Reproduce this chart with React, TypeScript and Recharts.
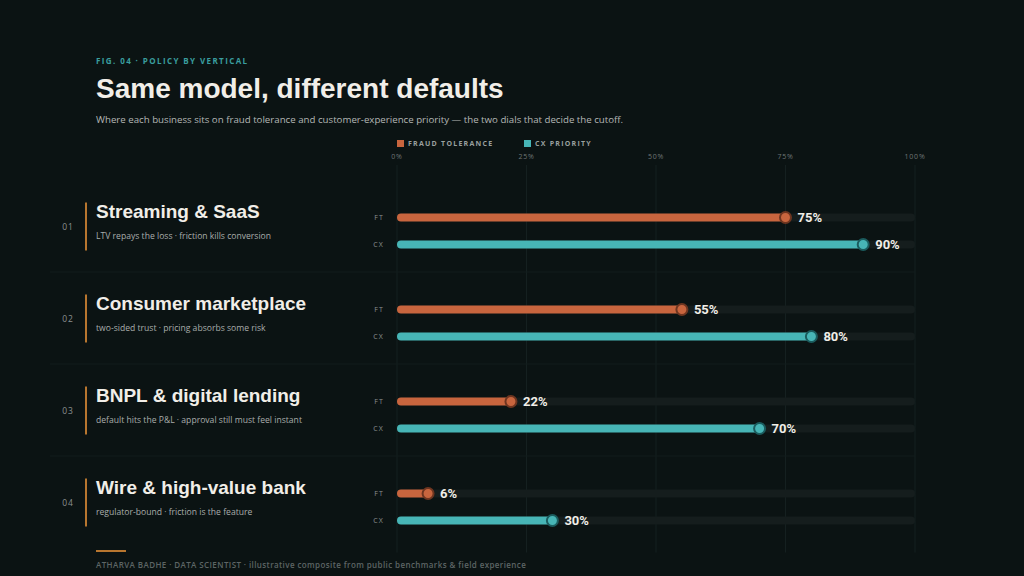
import { BarChart, Bar, XAxis, YAxis, CartesianGrid, LabelList } from 'recharts';

const verticals = ['Streaming & SaaS', 'Consumer marketplace', 'BNPL & digital lending', 'Wire & high-value bank'];
const notes = [
  'LTV repays the loss · friction kills conversion',
  'two-sided trust · pricing absorbs some risk',
  'default hits the P&L · approval still must feel instant',
  'regulator-bound · friction is the feature',
];
const fraudTolerance = [75, 55, 22, 6];
const cxPriority = [90, 80, 70, 30];
const axisTicks = [0, 25, 50, 75, 100];

const BG = '#0b1313';
const ORANGE = '#c8653e';
const TEAL = '#47b5b6';
const GRID = '#152020';
const MUTED = '#8b9191';

const data = verticals.map((name, i) => ({
  name,
  note: notes[i],
  ft: fraudTolerance[i],
  cx: cxPriority[i],
}));

const sans = '"Open Sans", "Noto Sans", sans-serif';
const heavy = '"Liberation Sans", Arial, sans-serif';

function GroupTick(props: any) {
  const { y, payload, index } = props;
  const i = payload.index ?? index;
  const row = data[i];
  return (
    <g>
      {i < data.length - 1 && <line x1={50} x2={915} y1={y + 41.5} y2={y + 41.5} stroke="#131c1c" strokeWidth={1} />}
      <text x={68} y={y - 1} textAnchor="middle" fill={MUTED} fontSize={8.5} fontFamily={sans} letterSpacing={1}>
        {String(i + 1).padStart(2, '0')}
      </text>
      <rect x={85} y={y - 28} width={2} height={48} fill="#b8762f" />
      <text x={96} y={y - 12.5} fill="#f1eee8" fontSize={19} fontWeight={700} fontFamily={heavy}>
        {row.name}
      </text>
      <text x={96} y={y + 8} fill="#a9adab" fontSize={8.6} fontFamily={sans}>
        {row.note}
      </text>
      <text x={384} y={y - 11} textAnchor="end" fill={MUTED} fontSize={7} fontFamily={sans} letterSpacing={1.2}>FT</text>
      <text x={384} y={y + 16} textAnchor="end" fill={MUTED} fontSize={7} fontFamily={sans} letterSpacing={1.2}>CX</text>
    </g>
  );
}

function PctTick(props: any) {
  const { x, payload } = props;
  return (
    <text x={x} y={159} textAnchor="middle" fill="#6f7676" fontSize={7} fontFamily={sans} letterSpacing={0.8}>
      {payload.value}%
    </text>
  );
}

function endMarker(color: string, ring: string) {
  return (props: any) => {
    const { x, y, width, height, value } = props;
    const cx = x + width;
    const cy = y + height / 2;
    return (
      <g>
        <circle cx={cx} cy={cy} r={5.5} fill={color} stroke={ring} strokeWidth={2} />
        <text x={cx + 12} y={cy + 4.5} fill="#f1eee8" fontSize={13} fontWeight={700} fontFamily="Roboto, sans-serif">
          {value}%
        </text>
      </g>
    );
  };
}

export default function App() {
  return (
    <div style={{ position: 'absolute', left: 0, top: 0, width: 1024, height: 576, background: BG, overflow: 'hidden' }}>
      <div style={{ position: 'absolute', left: 96, top: 57, fontFamily: sans, fontSize: 8, fontWeight: 700, letterSpacing: 1.4, color: '#3a9e9f', lineHeight: 1 }}>
        FIG. 04 · POLICY BY VERTICAL
      </div>
      <div style={{ position: 'absolute', left: 96, top: 75, fontFamily: heavy, fontSize: 28, fontWeight: 700, color: '#f1eee8', lineHeight: 1 }}>
        Same model, different defaults
      </div>
      <div style={{ position: 'absolute', left: 96, top: 115, fontFamily: sans, fontSize: 9.7, color: '#b4b7b5', lineHeight: 1, whiteSpace: 'nowrap' }}>
        Where each business sits on fraud tolerance and customer-experience priority — the two dials that decide the cutoff.
      </div>
      <div style={{ position: 'absolute', left: 397, top: 140, display: 'flex', gap: 0, fontFamily: sans, fontSize: 7, fontWeight: 700, letterSpacing: 1.25, color: '#9aa09f', lineHeight: '8px' }}>
        <span style={{ display: 'inline-block', width: 7, height: 7, background: ORANGE, marginRight: 4 }} />
        <span style={{ width: 116 }}>FRAUD TOLERANCE</span>
        <span style={{ display: 'inline-block', width: 7, height: 7, background: TEAL, marginRight: 4 }} />
        <span>CX PRIORITY</span>
      </div>

      <BarChart
        width={1024}
        height={576}
        data={data}
        layout="vertical"
        margin={{ top: 140, right: 109, bottom: 23.5, left: 0 }}
        barSize={8}
        barGap={19}
      >
        <CartesianGrid horizontal={false} stroke={GRID} />
        <XAxis
          type="number"
          orientation="top"
          domain={[0, 100]}
          ticks={axisTicks}
          axisLine={false}
          tickLine={false}
          height={25}
          tick={<PctTick />}
        />
        <YAxis
          type="category"
          dataKey="name"
          width={397}
          axisLine={false}
          tickLine={false}
          padding={{ top: 19.5, bottom: 0 }}
          tick={<GroupTick />}
        />
        <Bar dataKey="ft" fill={ORANGE} radius={4} background={{ fill: '#151d1d', radius: 4 }} isAnimationActive={false}>
          <LabelList dataKey="ft" content={endMarker(ORANGE, '#6e3520')} />
        </Bar>
        <Bar dataKey="cx" fill={TEAL} radius={4} background={{ fill: '#151d1d', radius: 4 }} isAnimationActive={false}>
          <LabelList dataKey="cx" content={endMarker(TEAL, '#1b5c5e')} />
        </Bar>
      </BarChart>

      <div style={{ position: 'absolute', left: 96, top: 550, width: 30, height: 2, background: '#b8762f' }} />
      <div style={{ position: 'absolute', left: 96, top: 561, fontFamily: sans, fontSize: 8, fontWeight: 600, letterSpacing: 0.4, color: '#5d6565', lineHeight: 1, whiteSpace: 'nowrap' }}>
        ATHARVA BADHE · DATA SCIENTIST · illustrative composite from public benchmarks &amp; field experience
      </div>
    </div>
  );
}
